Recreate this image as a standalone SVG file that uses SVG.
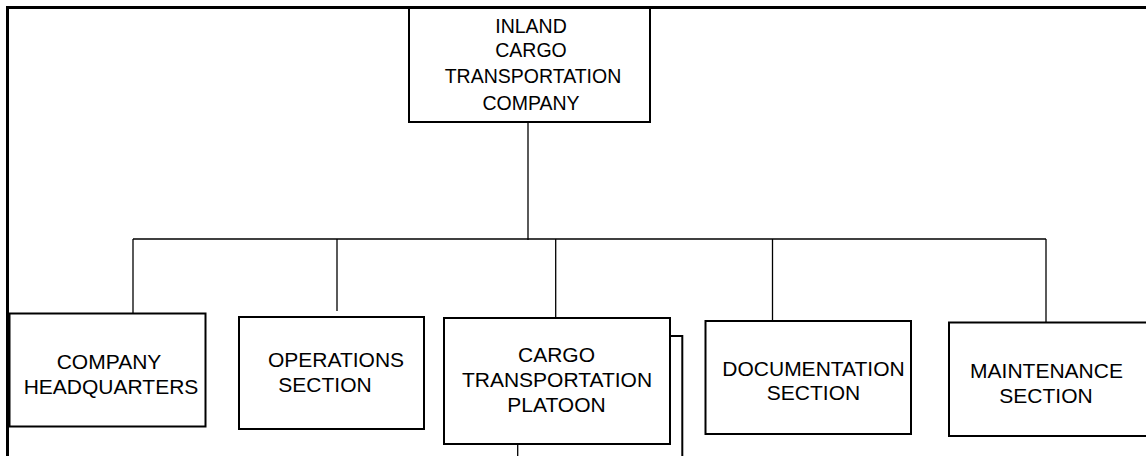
<svg xmlns="http://www.w3.org/2000/svg" width="1146" height="456" viewBox="0 0 1146 456">
<style>
.box{fill:#fff;stroke:#000;stroke-width:2}
.ln{fill:none;stroke:#000;stroke-width:1.3}
.frame{fill:none;stroke:#000;stroke-width:3}
text{font-family:"Liberation Sans",Arial,sans-serif;font-size:21px;fill:#000;text-anchor:middle}
.top text{font-size:19.5px}
</style>
<rect width="1146" height="456" fill="#fff"/>
<g id="frame">
<path class="frame" d="M7.5,456 V7.5 H1146"/>
</g>
<g id="connectors">
<path class="ln" d="M528,122 V240"/>
<path class="ln" d="M133,239 H1046"/>
<path class="ln" d="M133,239 V313"/>
<path class="ln" d="M337,239 V311"/>
<path class="ln" d="M555.7,239 V317"/>
<path class="ln" d="M772.5,239 V321"/>
<path class="ln" d="M1046,239 V322"/>
<path class="ln" d="M517.7,444 V456"/>
</g>
<g id="n-top" class="top">
<rect class="box" x="409" y="8" width="241" height="114"/>
<text x="531" y="32.5">INLAND</text>
<text x="531" y="57">CARGO</text>
<text x="533" y="83">TRANSPORTATION</text>
<text x="531" y="109.5">COMPANY</text>
</g>
<g id="n-hq">
<rect class="box" x="9.5" y="313.5" width="196" height="113"/>
<text x="109" y="368.5">COMPANY</text>
<text x="111" y="394">HEADQUARTERS</text>
</g>
<g id="n-ops">
<rect class="box" x="239" y="317" width="185" height="112"/>
<text x="336" y="366.5">OPERATIONS</text>
<text x="325" y="392">SECTION</text>
</g>
<g id="n-cargo">
<path class="box" d="M670,336 H682.3 V456" fill="none"/>
<rect class="box" x="444" y="318" width="226" height="126"/>
<text x="556.5" y="361.5">CARGO</text>
<text x="557" y="386.5">TRANSPORTATION</text>
<text x="556.5" y="411.5">PLATOON</text>
</g>
<g id="n-doc">
<rect class="box" x="705.5" y="321" width="205.5" height="113"/>
<text x="813.5" y="375.5">DOCUMENTATION</text>
<text x="813.5" y="400">SECTION</text>
</g>
<g id="n-maint">
<rect class="box" x="949" y="322.5" width="210" height="113.5"/>
<text x="1046.5" y="377.5">MAINTENANCE</text>
<text x="1046" y="402.5">SECTION</text>
</g>
</svg>
